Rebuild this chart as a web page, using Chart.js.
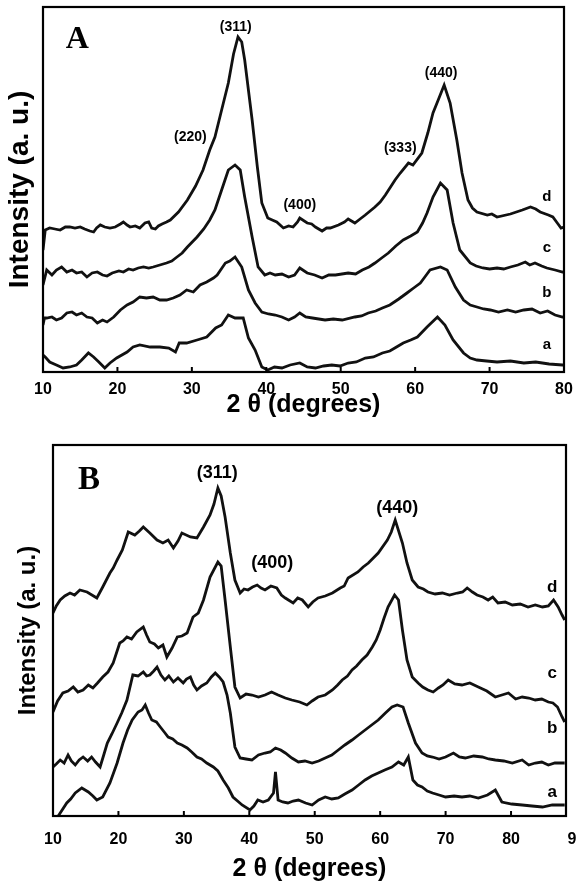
<!DOCTYPE html>
<html>
<head>
<meta charset="utf-8">
<title>XRD patterns</title>
<script src="https://cdn.jsdelivr.net/npm/chart.js@4.4.1/dist/chart.umd.min.js"></script>
<style>
  html, body { margin: 0; padding: 0; background: #fff; }
  .panel { position: absolute; left: 0; width: 576px; }
  #wrapA { top: 0; height: 420px; }
  #wrapB { top: 440px; height: 442px; }
</style>
</head>
<body>
<div class="panel" id="wrapA"><canvas id="chartA"></canvas></div>
<div class="panel" id="wrapB"><canvas id="chartB"></canvas></div>
<script>
// diffractograms, [2θ, intensity (a.u., stacked)]
const patternA_d = [[10,122],[10.3,142],[10.9,144],[11.6,143],[12.3,142],[13,145],[13.6,145],[14.3,144],[15,145],[15.6,143],[16.3,141],[16.8,140],[17.2,144],[17.7,147],[18.3,145],[19,144],[19.7,145],[20.4,148],[20.8,150],[21.3,147],[21.7,145],[22.4,146],[23,144],[23.7,149],[24.2,150],[24.6,144],[25.1,143],[25.5,146],[26,148],[26.6,150],[27.1,152],[28.2,160],[29.4,172],[30.5,186],[31.5,202],[32.4,222],[33.1,235],[34,262],[34.9,289],[35.6,318],[36.2,335],[36.7,330],[37.1,312],[38.1,252],[38.8,205],[39.4,169],[40.2,154],[40.8,152],[41.4,150],[42.3,144],[43,146],[43.6,145],[44.2,150],[44.5,154],[45.5,149],[46.1,148],[46.6,145],[47.5,141],[48.1,144],[48.6,144],[49.7,147],[50.5,150],[51,153],[51.9,149],[52.6,153],[53.3,157],[54.6,165],[55.3,170],[56,177],[57.3,192],[58,199],[59.1,209],[59.7,207],[60.9,219],[61.7,239],[62.4,259],[63.1,272],[63.9,287],[64.7,269],[65.6,232],[66.3,199],[67.1,172],[67.7,164],[68.3,160],[69.7,157],[70.3,158],[71,155],[72.8,158],[74.4,162],[75.5,165],[76.2,163],[76.8,160],[77.9,157],[78.5,155],[79.1,149],[79.6,144],[80,145]];
const patternA_c = [[10,87],[10.5,102],[11.2,97],[11.8,102],[12.5,105],[13.2,100],[13.9,102],[14.5,99],[15.2,100],[15.9,95],[16.6,99],[17.3,100],[18,97],[18.6,96],[19.3,99],[20.2,101],[20.8,100],[21.5,103],[22.1,102],[22.8,104],[23.5,105],[24.2,104],[24.8,105],[25.7,107],[26.6,109],[27.3,111],[28,115],[28.7,119],[29.4,125],[30.7,135],[31.6,143],[32.4,152],[33.1,162],[34,182],[34.9,202],[35.8,207],[36.5,202],[37.1,175],[38.1,135],[38.9,105],[39.8,97],[40.5,99],[41.2,97],[42.1,98],[43,95],[43.8,97],[44.5,104],[45.5,99],[46.5,97],[47.5,94],[48.4,97],[49.3,97],[51,99],[52,98],[52.9,102],[53.8,105],[54.6,109],[55.5,114],[56.4,119],[57.4,126],[58.4,132],[59.4,136],[60.3,140],[61,149],[61.6,159],[62.4,175],[63.4,189],[64.3,182],[65.1,149],[66,122],[67.4,109],[68.2,106],[69.1,104],[70,103],[71,104],[71.9,103],[72.8,105],[73.8,107],[74.8,110],[75.4,107],[76.1,109],[77,106],[77.7,104],[78.8,102],[79.8,100],[80,100]];
const patternA_b = [[10,47],[10.2,54],[10.5,54],[11.2,55],[11.8,52],[12.5,54],[13.2,59],[13.9,60],[14.5,57],[15.2,59],[15.9,55],[16.6,54],[17.3,49],[18,52],[18.6,50],[19.5,55],[20.4,62],[21.3,67],[22.1,70],[23,75],[23.9,74],[24.8,75],[25.7,72],[26.6,72],[27.5,74],[28.4,77],[29.3,82],[30.2,80],[31.1,87],[32,90],[32.9,94],[33.4,97],[34.5,109],[35.1,111],[35.8,115],[36.7,105],[37.6,82],[38.5,69],[39.4,60],[40.3,58],[41.2,57],[42.1,55],[43,52],[43.8,55],[44.5,59],[45.3,55],[46.2,54],[47.9,52],[49,53],[50.2,52],[51.9,55],[52.8,56],[53.7,59],[54.7,61],[55.6,64],[56.6,67],[57.8,73],[58.9,79],[59.8,84],[60.7,89],[61.4,96],[62,102],[63.4,105],[64.3,102],[65.4,85],[66.5,72],[67.4,67],[68.3,65],[69.2,63],[70.1,62],[71.2,60],[72.4,62],[73.5,60],[74.6,62],[75.7,63],[76.8,59],[77.8,61],[78.8,57],[79.8,55],[80,55]];
const patternA_a = [[10,17],[10.3,15],[10.9,10],[11.8,7],[12.7,4],[13.6,5],[14.5,7],[15.2,12],[16.1,19],[16.8,15],[17.5,10],[18.3,4],[19,9],[19.9,14],[21.3,20],[22.1,25],[23,27],[24.4,25],[25.7,25],[26.9,24],[27.8,20],[28.3,29],[29.3,29],[30.7,32],[32,35],[33.2,44],[34,47],[34.9,57],[35.8,54],[36.9,54],[37.6,34],[38.5,22],[39.4,5],[40.2,2],[41.1,5],[42.1,4],[43.2,7],[44.5,9],[45.5,5],[46.6,4],[47.7,6],[48.8,7],[49.9,6],[51,9],[52.1,10],[53.3,14],[54.4,15],[55.6,19],[56.6,21],[57.5,25],[58.4,29],[59.4,32],[60.3,35],[61.6,45],[63,55],[64,47],[65.1,32],[66.5,19],[67.4,14],[68.3,12],[69.6,11],[71,10],[72.8,11],[74.6,9],[76.2,10],[78,8],[79.8,7],[80,7]];

const patternB_d = [[10,203],[10.5,210],[11.1,216],[11.8,220],[12.6,223],[13.3,221],[14.1,226],[15.2,224],[16.7,218],[17.6,229],[18.7,243],[19.2,248],[19.8,256],[20.6,266],[21.5,284],[22.5,281],[23.2,285],[23.8,289],[24.8,283],[25.9,276],[26.8,273],[27.6,276],[28.4,268],[29.1,275],[29.7,283],[31,279],[32,278],[33,289],[34,301],[34.6,312],[35.2,328],[35.7,320],[36.3,299],[37.1,263],[37.8,236],[38.6,223],[39.2,227],[39.8,226],[40.5,229],[41.2,231],[41.8,228],[42.4,226],[43.3,230],[44.2,228],[44.9,221],[45.5,218],[46.7,213],[47.4,218],[48.1,216],[49,209],[49.7,214],[50.5,218],[51.6,220],[52.7,223],[53.9,228],[54.5,230],[55.1,238],[56.6,244],[57.4,249],[58.2,253],[59.7,263],[61.1,276],[61.7,284],[62.3,296],[63.4,273],[64.1,253],[64.9,236],[65.8,229],[66.6,227],[67.3,224],[68.4,222],[69.5,223],[70.6,221],[71.8,223],[72.6,224],[73.3,228],[74.1,224],[74.8,221],[75.7,219],[76.5,216],[77.2,219],[78,213],[79.1,214],[80.2,211],[81.4,212],[82.6,209],[83.7,211],[84.8,209],[85.7,210],[86.5,216],[87.2,209],[87.8,201],[88.2,196]];
const patternB_c = [[10,104],[10.7,115],[11.5,123],[12.3,125],[13.1,129],[13.8,124],[14.6,126],[15.4,131],[16.1,128],[16.8,133],[17.6,139],[18.4,144],[19.2,153],[20.2,173],[20.7,175],[21.3,179],[22,177],[22.8,184],[23.8,189],[24.3,181],[24.8,174],[25.5,172],[26.1,168],[26.8,171],[27.4,159],[28.2,168],[29,179],[29.7,180],[30.5,183],[31.4,199],[32.2,203],[33,216],[34,239],[35.2,254],[35.7,250],[36.3,216],[37.1,169],[37.8,129],[38.6,118],[39.5,122],[40.4,121],[41.4,119],[42.4,121],[43.4,124],[44.4,121],[45.5,118],[46.5,116],[47.7,114],[48.8,111],[49.6,115],[50.5,119],[51.6,121],[52.7,126],[53.5,131],[54.2,136],[55,140],[55.7,146],[56.4,150],[57.2,156],[58,161],[58.8,169],[59.4,176],[60,186],[60.6,198],[61.2,209],[62.2,221],[62.8,216],[63.4,186],[64.1,156],[64.9,139],[65.8,133],[66.5,129],[67.3,126],[68.1,124],[68.9,128],[69.6,131],[70.4,136],[71.4,132],[72.5,131],[73.7,133],[75,129],[76.3,125],[77.6,119],[78.6,121],[79.6,123],[80.7,117],[81.7,119],[82.7,118],[83.7,116],[84.7,117],[85.7,114],[86.4,113],[87.1,109],[87.8,99],[88.2,94]];
const patternB_b = [[10,49],[10.5,52],[11.1,56],[11.7,53],[12.3,61],[12.8,55],[13.4,51],[14,56],[14.6,59],[15.3,55],[15.9,59],[16.5,54],[17.2,49],[17.8,62],[18.3,73],[19,82],[19.8,93],[20.5,103],[21.3,116],[22.2,141],[23,140],[23.8,144],[24.3,140],[24.8,141],[25.4,145],[25.9,149],[26.5,141],[27.1,136],[27.7,140],[28.4,134],[29.1,138],[29.9,133],[30.4,137],[31,139],[31.5,131],[32,126],[32.7,130],[33.5,133],[34.2,139],[34.8,143],[35.4,139],[36,134],[36.6,121],[37.1,103],[37.8,69],[38.6,58],[39.5,57],[40.4,56],[41.4,61],[42.4,63],[43.2,64],[44,68],[44.8,66],[45.5,63],[46.5,58],[47.5,54],[48.5,55],[49.6,53],[50.6,55],[51.6,58],[52.6,61],[53.6,66],[54.6,71],[55.7,76],[56.7,81],[57.7,86],[58.7,91],[59.7,96],[60.8,103],[61.8,109],[62.6,111],[63.5,109],[64.3,93],[65.4,73],[66.4,63],[67.2,60],[68,59],[69,57],[70,59],[71.2,63],[72.1,59],[73,58],[74.3,60],[75.6,59],[76.6,57],[77.6,56],[78.9,55],[80.2,53],[81.7,56],[82.7,51],[83.7,53],[84.7,54],[85.7,51],[86.7,53],[87.8,53],[88.2,53]];
const patternB_a = [[10.8,0],[11.1,3],[12.1,13],[12.7,17],[13.4,23],[14.4,28],[15.4,24],[16.1,20],[16.7,16],[17.6,19],[18.7,33],[19.8,53],[20.7,73],[21.4,86],[22.1,96],[23,104],[23.6,106],[24.1,111],[24.6,103],[25.1,96],[25.8,94],[26.4,89],[27,84],[27.6,79],[28.3,77],[29,73],[29.7,71],[30.5,68],[31.2,64],[32,59],[32.7,57],[33.5,53],[34.5,49],[35.2,45],[36,36],[36.8,28],[37.5,19],[38.2,15],[38.9,11],[40.1,6],[40.7,10],[41.3,16],[42.1,14],[42.9,16],[43.7,23],[44,44],[44.4,16],[45.1,14],[45.9,13],[46.7,15],[47.5,16],[48.6,13],[49.6,11],[50.6,16],[51.6,19],[52.6,17],[53.6,18],[54.6,22],[55.7,26],[56.7,31],[57.7,36],[58.7,40],[59.7,43],[60.7,46],[61.8,49],[62.8,54],[63.6,51],[64.3,59],[65,36],[65.7,31],[66.4,29],[67.2,25],[68,23],[69,21],[70,19],[71.3,20],[72.5,19],[73.7,20],[75,18],[76.4,21],[77.6,26],[78.6,14],[80.1,12],[81.7,11],[83.2,10],[84.8,9],[86.3,11],[87.8,11],[88.2,11]];

const ticksA = [10, 20, 30, 40, 50, 60, 70, 80];
const ticksB = [10, 20, 30, 40, 50, 60, 70, 80, 90];

// text placed on the plots, in [2θ, intensity] coordinates
const notesA = [
  {kind: 'panel', text: 'A', x: 14.6, y: 332},
  {kind: 'peak', text: '(311)', x: 35.9, y: 345},
  {kind: 'peak', text: '(220)', x: 29.8, y: 235},
  {kind: 'peak', text: '(400)', x: 44.5, y: 167},
  {kind: 'peak', text: '(333)', x: 58, y: 224},
  {kind: 'peak', text: '(440)', x: 63.5, y: 299},
  {kind: 'curve', text: 'd', x: 77.7, y: 175},
  {kind: 'curve', text: 'c', x: 77.7, y: 124},
  {kind: 'curve', text: 'b', x: 77.7, y: 79},
  {kind: 'curve', text: 'a', x: 77.7, y: 27}
];
const notesB = [
  {kind: 'panel', text: 'B', x: 15.5, y: 336},
  {kind: 'peak', text: '(311)', x: 35.1, y: 343},
  {kind: 'peak', text: '(400)', x: 43.5, y: 253},
  {kind: 'peak', text: '(440)', x: 62.6, y: 308},
  {kind: 'curve', text: 'd', x: 86.3, y: 229},
  {kind: 'curve', text: 'c', x: 86.3, y: 143},
  {kind: 'curve', text: 'b', x: 86.3, y: 88},
  {kind: 'curve', text: 'a', x: 86.3, y: 24}
];

const sans = "'Liberation Sans', Arial, sans-serif";

// box round the plot, short inward ticks, and the peak / curve labels
const framePlugin = {
  id: 'frame',
  afterDatasetsDraw(chart, args, opts) {
    const ctx = chart.ctx;
    const ca = chart.chartArea;
    const x = chart.scales.x, y = chart.scales.y;
    ctx.save();
    ctx.strokeStyle = '#000';
    ctx.lineWidth = 2.2;
    ctx.strokeRect(ca.left, ca.top, ca.right - ca.left, ca.bottom - ca.top);
    ctx.lineWidth = 2;
    x.ticks.forEach(t => {
      if (t.value <= x.min || t.value >= x.max) return;
      const px = x.getPixelForValue(t.value);
      ctx.beginPath();
      ctx.moveTo(px, ca.bottom);
      ctx.lineTo(px, ca.bottom - 5);
      ctx.stroke();
    });
    ctx.fillStyle = '#000';
    ctx.textAlign = 'center';
    ctx.textBaseline = 'middle';
    opts.notes.forEach(n => {
      ctx.font = opts.fonts[n.kind];
      ctx.fillText(n.text, x.getPixelForValue(n.x), y.getPixelForValue(n.y));
    });
    ctx.restore();
  }
};

function makeDatasets(curves) {
  return curves.map(c => ({
    data: c,
    borderColor: '#111',
    borderWidth: 2.8,
    pointRadius: 0,
    tension: 0,
    fill: false
  }));
}

function makeChart(id, curves, cfg) {
  const ctx = document.getElementById(id).getContext('2d');
  return new Chart(ctx, {
    type: 'line',
    data: { datasets: makeDatasets(curves) },
    options: {
      responsive: true,
      maintainAspectRatio: false,
      animation: false,
      layout: { padding: cfg.padding },
      plugins: {
        legend: { display: false },
        tooltip: { enabled: false },
        frame: { notes: cfg.notes, fonts: cfg.fonts }
      },
      scales: {
        x: {
          type: 'linear',
          min: 10,
          max: cfg.xMax,
          grid: { display: false, drawTicks: false },
          border: { display: false },
          afterBuildTicks: s => { s.ticks = cfg.ticks.map(v => ({ value: v })); },
          ticks: {
            autoSkip: false,
            maxRotation: 0,
            padding: cfg.tickPad,
            color: '#000',
            font: { family: sans, size: 16, weight: 'bold' }
          },
          title: {
            display: true,
            text: '2 θ (degrees)',
            color: '#000',
            font: { family: sans, size: 25, weight: 'bold', lineHeight: 1 },
            padding: { top: 0, bottom: cfg.xTitlePad }
          },
          afterFit: s => {
            s.height = cfg.xHeight;
            // let the end labels hang past the box instead of shrinking it
            s.paddingLeft = 0;
            s.paddingRight = 0;
          }
        },
        y: {
          min: 0,
          max: cfg.yMax,
          grid: { display: false, drawTicks: false },
          border: { display: false },
          ticks: { display: false },
          title: {
            display: true,
            text: 'Intensity (a. u.)',
            color: '#000',
            font: { family: sans, size: cfg.yTitleSize, weight: 'bold', lineHeight: 1 },
            padding: { top: cfg.yTitlePad, bottom: 0 }
          },
          afterFit: s => { s.width = cfg.yWidth; }
        }
      }
    },
    plugins: [framePlugin]
  });
}

makeChart('chartA', [patternA_a, patternA_b, patternA_c, patternA_d], {
  padding: { top: 7, right: 12, bottom: 0, left: 0 },
  xMax: 80, yMax: 365, ticks: ticksA,
  tickPad: 8, xTitlePad: 2, xHeight: 48,
  yTitleSize: 28, yTitlePad: 6, yWidth: 43,
  notes: notesA,
  fonts: {
    panel: "bold 32px 'Liberation Serif', 'Times New Roman', serif",
    peak: "bold 14px " + sans,
    curve: "bold 15px " + sans
  }
});

makeChart('chartB', [patternB_a, patternB_b, patternB_c, patternB_d], {
  padding: { top: 5, right: 10, bottom: 0, left: 0 },
  xMax: 88.4, yMax: 371, ticks: ticksB,
  tickPad: 14, xTitlePad: 0, xHeight: 66,
  yTitleSize: 24, yTitlePad: 16, yWidth: 53,
  notes: notesB,
  fonts: {
    panel: "bold 33px 'Liberation Serif', 'Times New Roman', serif",
    peak: "bold 18px " + sans,
    curve: "bold 17px " + sans
  }
});
</script>
</body>
</html>
